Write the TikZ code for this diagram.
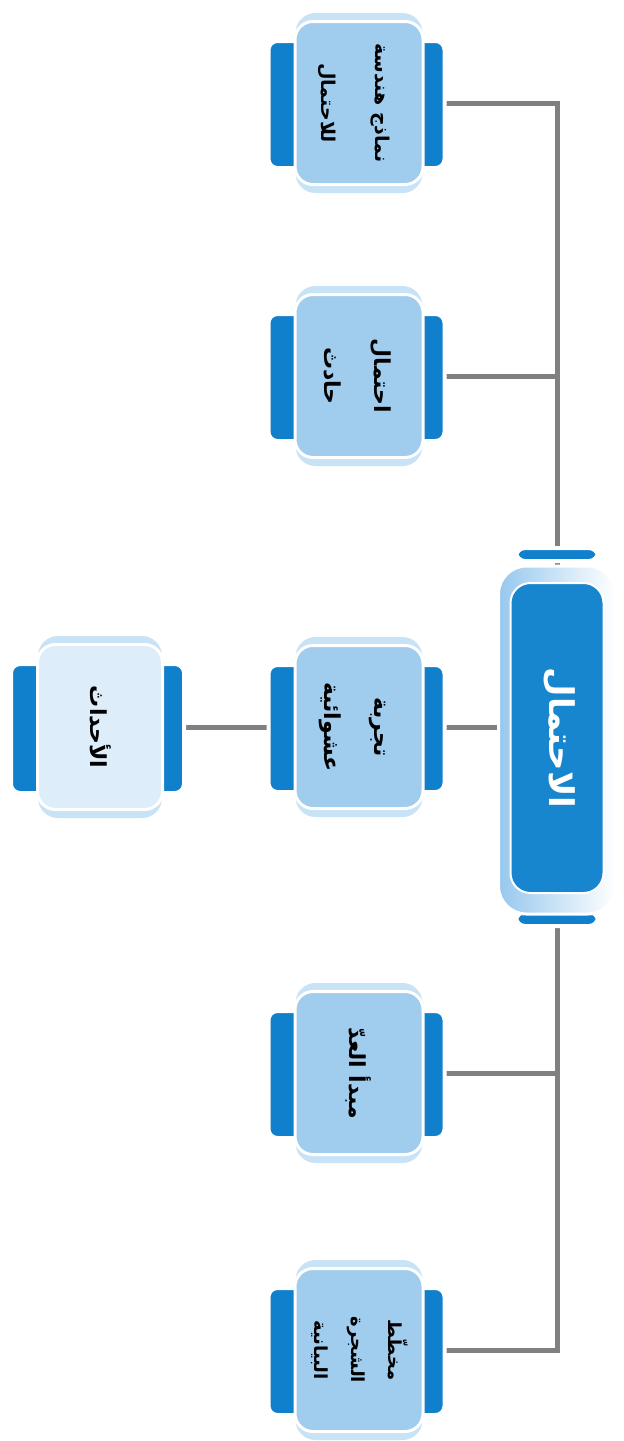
\documentclass[tikz,border=0pt]{standalone}
\usepackage{fontspec}
\newfontfamily\arabicfont[Script=Arabic]{DejaVu Sans}
\TeXXeTstate=1
\usetikzlibrary{calc,backgrounds}
\definecolor{capblue}{RGB}{16,128,205}
\definecolor{rootblue}{RGB}{24,134,206}
\definecolor{conceptblue}{RGB}{160,204,238}
\definecolor{eventfill}{RGB}{222,237,250}
\definecolor{haloblue}{RGB}{200,226,246}
\definecolor{pillblue}{RGB}{150,200,238}
\definecolor{linkgray}{RGB}{128,128,128}
\newcommand{\vlabel}[1]{\rotatebox{-90}{\begin{tabular}{@{}c@{}}#1\end{tabular}}}

\begin{document}
\begin{tikzpicture}[x=1pt, y=-1pt,
    concept/.style={draw=white, line width=3pt, fill=conceptblue, rounded corners=18pt,
      minimum width=128pt, minimum height=163pt, inner sep=0pt,
      font=\arabicfont\bfseries\fontsize{22}{50}\selectfont},
    event/.style={concept, fill=eventfill, minimum width=125pt, minimum height=165pt},
    rootbox/.style={draw=white, line width=2pt, fill=rootblue, rounded corners=20pt,
      minimum width=93pt, minimum height=310pt, inner sep=0pt, text=white,
      font=\arabicfont\bfseries\fontsize{34}{40}\selectfont},
    pill/.style={draw=white, line width=3pt, rounded corners=28pt, left color=pillblue, right color=white},
    capbar/.style={draw=white, line width=4pt, fill=capblue, rounded corners=9pt},
    halo/.style={fill=haloblue, rounded corners=20pt},
    link/.style={draw=linkgray, line width=5pt}]
    \useasboundingbox (0,0) rectangle (624,1441);

    % Root
    \node[rootbox] (root) at (557,738) {\vlabel{\beginR الاحتمال\endR}};

    % Concepts
    \node[concept, font=\arabicfont\bfseries\fontsize{19}{54}\selectfont] (n1) at (359,103)
        {\vlabel{\beginR نماذج هندسة\endR\\\beginR للاحتمال\endR}};
    \node[concept] (n2) at (359,376) {\vlabel{\beginR احتمال\endR\\\beginR حادث\endR}};
    \node[concept] (n3) at (359,727) {\vlabel{\beginR تجربة\endR\\\beginR عشوائية\endR}};
    \node[concept] (n4) at (359,1073) {\vlabel{\beginR مبدأ العدّ\endR}};
    \node[concept, font=\arabicfont\bfseries\fontsize{18}{37}\selectfont] (n5) at (359,1350)
        {\vlabel{\beginR مخطّط\endR\\\beginR الشجرة\endR\\\beginR البيانية\endR}};
    \node[event] (ev) at (100,727) {\vlabel{\beginR الأحداث\endR}};

    \begin{scope}[on background layer]
        % Connections
        \draw[link] (n1.east) -| (root.north);
        \draw[link] (n2.east) -| (root.north);
        \draw[link] (n5.east) -| (root.south);
        \draw[link] (n4.east) -| (root.south);
        \draw[link] (n3.east) -- (n3.east -| root.west);
        \draw[link] (ev.east) -- (n3.west);

        % Side caps
        \foreach \n in {n1,n2,n3,n4,n5,ev} {
            \draw[capbar] ([xshift=-25pt,yshift=-21pt]\n.north west) rectangle ([xshift=10pt,yshift=18pt]\n.south west);
            \draw[capbar] ([xshift=-10pt,yshift=-21pt]\n.north east) rectangle ([xshift=20pt,yshift=18pt]\n.south east);
            \fill[halo] ([xshift=2pt,yshift=7pt]\n.north west) rectangle ([xshift=-2pt,yshift=-7pt]\n.south east);
        }

        % Root frame
        \draw[capbar] ([xshift=-41pt,yshift=34pt]root.north) rectangle ([xshift=41pt,yshift=21pt]root.north);
        \draw[capbar] ([xshift=-41pt,yshift=-18pt]root.south) rectangle ([xshift=41pt,yshift=-32pt]root.south);
        \draw[pill] ([xshift=-11pt,yshift=16pt]root.north west) rectangle ([xshift=11pt,yshift=-20pt]root.south east);
    \end{scope}
\end{tikzpicture}
\end{document}
